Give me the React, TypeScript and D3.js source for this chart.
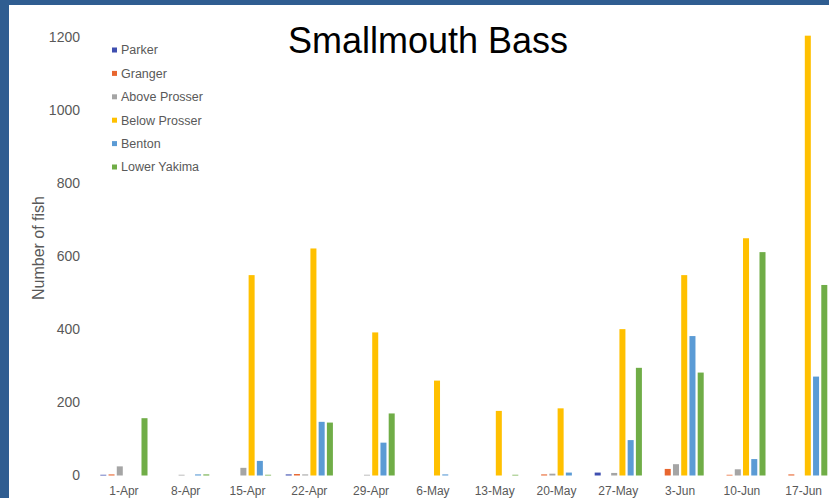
import React from "react";
import * as d3 from "d3";

const categories = ["1-Apr", "8-Apr", "15-Apr", "22-Apr", "29-Apr", "6-May", "13-May", "20-May", "27-May", "3-Jun", "10-Jun", "17-Jun"];
const seriesNames = ["Parker", "Granger", "Above Prosser", "Below Prosser", "Benton", "Lower Yakima"];
const seriesColors = ["#3F4FB0", "#E8662F", "#A5A5A5", "#FFC000", "#5B9BD5", "#70AD47"];

const parker = [2, 0, 0, 3, 0, 0, 0, 0, 8, 0, 0, 0];
const granger = [3, 0, 0, 4, 0, 0, 0, 3, 0, 18, 2, 3];
const aboveProsser = [25, 2, 21, 3, 2, 0, 0, 5, 7, 31, 17, 0];
const belowProsser = [0, 0, 549, 622, 392, 260, 177, 184, 401, 549, 650, 1205];
const benton = [0, 3, 40, 147, 90, 3, 0, 8, 97, 382, 45, 271];
const lowerYakima = [157, 3, 2, 145, 170, 0, 2, 0, 295, 282, 612, 522];

const seriesValues = [parker, granger, aboveProsser, belowProsser, benton, lowerYakima];
const yTicks = [0, 200, 400, 600, 800, 1000, 1200];

const W = 829;
const H = 498;

export default function App() {
  const x0 = d3.scaleBand<string>().domain(categories).range([93, 834.6]).paddingInner(0.2).paddingOuter(0.1);
  const x1 = d3.scaleBand<string>().domain(seriesNames).range([0, x0.bandwidth()]).paddingInner(0.27).paddingOuter(0.135);
  const y = d3.scaleLinear().domain([0, 1200]).range([475.5, 37.5]);

  const legendY = d3.scalePoint<string>().domain(seriesNames).range([50, 167]);

  return (
    <>
      <style>{`body{margin:0;}`}</style>
      <svg width={W} height={H} style={{ display: "block" }} fontFamily="'Liberation Sans', Arial, sans-serif">
        <rect x={0} y={0} width={W} height={H} fill="#2F5D91" />
        <rect x={9} y={5} width={W - 9} height={H - 5} fill="#FFFFFF" />

        <text x={288} y={53} fontSize={36} fill="#000">Smallmouth Bass</text>

        {yTicks.map((t) => (
          <text key={t} x={80} y={y(t)} dy="0.35em" textAnchor="end" fontSize={14} fill="#595959">{t}</text>
        ))}

        <text transform={`translate(38,${248}) rotate(-90)`} textAnchor="middle" dy="0.35em" fontSize={16} fill="#595959">Number of fish</text>

        {categories.map((c, i) => (
          <g key={c} transform={`translate(${x0(c)},0)`}>
            {seriesNames.map((s, j) => {
              const v = seriesValues[j][i];
              if (!v) return null;
              return (
                <rect key={s} x={x1(s)} y={y(v)} width={x1.bandwidth()} height={y(0) - y(v)} fill={seriesColors[j]} />
              );
            })}
            <text x={x0.bandwidth() / 2} y={495} textAnchor="middle" fontSize={12} fill="#595959">{c}</text>
          </g>
        ))}

        {seriesNames.map((s, j) => (
          <g key={s} transform={`translate(0,${legendY(s)})`}>
            <rect x={112} y={-2.5} width={5} height={5} fill={seriesColors[j]} />
            <text x={121} y={0} dy="0.35em" fontSize={12.5} fill="#595959">{s}</text>
          </g>
        ))}
      </svg>
    </>
  );
}
